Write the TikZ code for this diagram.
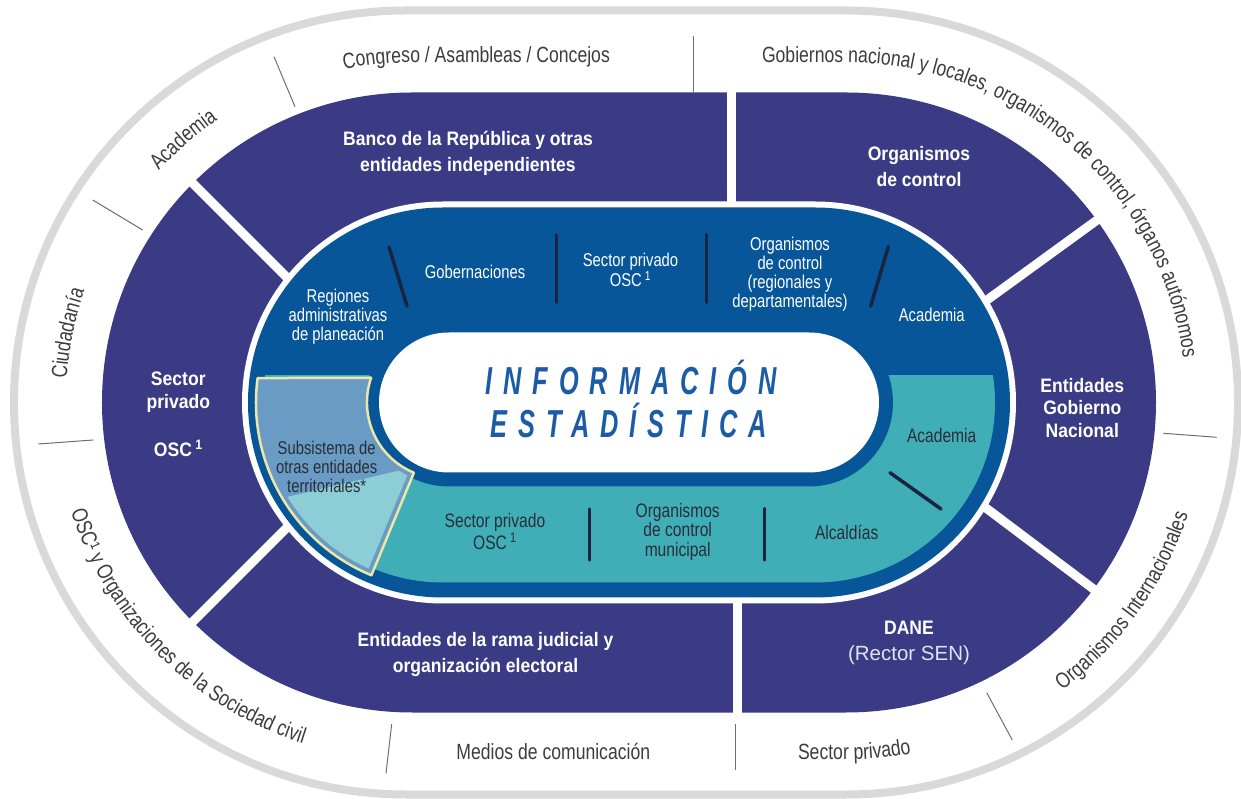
\documentclass[tikz,border=0pt]{standalone}
\usepackage{fontspec}
\setmainfont{Liberation Sans}[FakeStretch=0.8]
\newfontfamily\bcond{Liberation Sans}[FakeStretch=0.9]
\newfontfamily\titlef{Liberation Sans}[FakeStretch=0.65,LetterSpace=28]
\newfontfamily\plainf{Liberation Sans}
\usetikzlibrary{decorations.text}
\definecolor{purp}{RGB}{59,58,132}
\definecolor{ringblue}{RGB}{8,86,154}
\definecolor{tealc}{RGB}{64,174,183}
\definecolor{steelc}{RGB}{106,155,197}
\definecolor{lightc}{RGB}{141,205,213}
\definecolor{yelc}{RGB}{237,230,166}
\definecolor{grayring}{RGB}{217,217,217}
\definecolor{sepc}{RGB}{110,110,110}
\definecolor{outtext}{RGB}{60,60,60}
\definecolor{navyd}{RGB}{24,36,64}
\definecolor{dktext}{RGB}{42,46,56}
\definecolor{titlec}{RGB}{28,91,166}
\definecolor{rectorc}{RGB}{226,226,240}
\newcommand\outf{\fontsize{22}{22}\selectfont}
\begin{document}
\begin{tikzpicture}[x=1pt,y=1pt,
 stad/.style 2 args={insert path={(-#1,#2) -- (#1,#2) arc[start angle=90,end angle=-90,radius=#2] -- (-#1,-#2) arc[start angle=270,end angle=90,radius=#2] -- cycle}},
 subs/.style={insert path={(-371.4,24.4) arc[start angle=172.5,end angle=247.5,radius=187] -- (-215.1,-70.2) arc[start angle=247.5,end angle=161,radius=76] -- cycle}},
 divw/.style={white,line width=9pt},
 divd/.style={navyd,line width=3.5pt,line cap=round},
 sepl/.style={sepc,line width=1pt},
 inl/.style={inner sep=0pt,text=white,align=center,font=\fontsize{18.5}{19}\selectfont},
 dkl/.style={inner sep=0pt,text=dktext,align=center,font=\fontsize{19.5}{19.5}\selectfont},
 bl/.style={inner sep=0pt,text=white,align=center,font=\bcond\bfseries\fontsize{19.5}{26}\selectfont},
 outl/.style={inner sep=0pt,text=outtext,font=\outf},
 curv/.style={decorate,decoration={text along path,text color=outtext,text={|\outf|#1}}},
 titl/.style={inner sep=0pt,anchor=base,text=titlec,font=\titlef\bfseries\itshape\fontsize{39}{39}\selectfont},
]
\useasboundingbox (-629,-396.5) rectangle (612,402.5);
% outer gray ring
\draw[grayring,line width=8pt,xshift=-3pt,stad={220}{392}];
% purple ring
\fill[purp,stad={217}{310}];
\draw[divw] (102,185) -- (102,316);
\draw[divw] (108,-185) -- (108,-316);
\draw[divw] (-323.1,106.1) -- (-440.4,223.4);
\draw[divw] (-323.1,-106.1) -- (-440.4,-223.4);
\draw[divw] (338.4,88.2) -- (472.6,185.7);
\draw[divw] (336.8,-90.3) -- (469.4,-190.2);
\fill[white,stad={186}{201}];
% blue ring
\fill[ringblue,stad={186}{195}];
\begin{scope}
 \clip (-420,27) rectangle (420,-220);
 \fill[tealc,stad={186}{180}];
\end{scope}
\fill[ringblue,stad={180}{84}];
% subsystem
\fill[steelc,subs];
\begin{scope}
 \clip[subs];
 \fill[lightc] (-420,-112.9) -- (-200,-61) -- (-150,-61) -- (-150,-260) -- (-420,-260) -- cycle;
 \draw[steelc,line width=10pt,subs];
\end{scope}
\draw[yelc,line width=2.5pt,line join=round,subs];
% center
\fill[white,stad={180}{70}];
% dark dividers
\draw[divd] (-240,155.5) -- (-222,96.5);
\draw[divd] (-72.3,167.5) -- (-72.3,100);
\draw[divd] (77.7,168) -- (77.7,100);
\draw[divd] (259.3,155.8) -- (241.7,96.5);
\draw[divd] (-39.7,-106.5) -- (-39.7,-157.5);
\draw[divd] (135.3,-106) -- (135.3,-157.5);
\draw[divd] (261,-70.2) -- (312,-106.5);
% title
\node[titl] (t1) at (2,7.5) {INFORMACIÓN};
\node[titl] (t2) at (0,-35.5) {ESTADÍSTICA};
% inner blue labels
\node[inl] (reg) at (-291,85.3) {Regiones\\administrativas\\de planeación};
\node[inl] (gob) at (-154,130.8) {Gobernaciones};
\node[inl] (sp1) at (1.5,132.5) {Sector privado\\OSC\,\textsuperscript{1}};
\node[inl] (oc1) at (161,128.5) {Organismos\\de control\\(regionales y\\departamentales)};
\node[inl] (ac1) at (302.7,87.5) {Academia};
% teal labels
\node[dkl] (ac2) at (312.7,-33.5) {Academia};
\node[dkl] (alc) at (217.7,-129.8) {Alcaldías};
\node[dkl] (ocm) at (48.7,-129.2) {Organismos\\de control\\municipal};
\node[dkl] (sp2) at (-134,-129.2) {Sector privado\\OSC\,\textsuperscript{1}};
\node[dkl,font=\fontsize{18.5}{18.7}\selectfont] (sub) at (-302.3,-64.5) {Subsistema de\\otras entidades\\territoriales*};
% purple labels
\node[bl] (banco) at (-161,249.5) {Banco de la República y otras\\entidades independientes};
\node[bl] (orgc) at (290,235.8) {Organismos\\de control};
\node[bl,font=\bcond\bfseries\fontsize{19.5}{22.5}\selectfont] (egn) at (453.3,-5.2) {Entidades\\Gobierno\\Nacional};
\node[bl] (dane) at (280,-225.2) {DANE};
\node[inner sep=0pt,text=rectorc,font=\plainf\fontsize{20.5}{20.5}\selectfont] (rector) at (280,-252.5) {(Rector SEN)};
\node[bl] (rama) at (-143.5,-252.5) {Entidades de la rama judicial y\\organización electoral};
\node[bl,font=\bcond\bfseries\fontsize{19.5}{22.3}\selectfont] (spl) at (-450.7,10.3) {Sector\\privado};
\node[bl] (oscl) at (-450.7,-45.8) {OSC\,\textsuperscript{1}};
% outer separators
\draw[sepl] (64.3,366.5) -- (64.3,309.5);
\draw[sepl] (-355,345.8) -- (-334,295.8);
\draw[sepl] (-536.3,202.5) -- (-486.3,172.5);
\draw[sepl] (-590.7,-41.5) -- (-535.7,-37.5);
\draw[sepl] (-237.3,-321.5) -- (-243,-370.8);
\draw[sepl] (106.7,-321.5) -- (106.7,-367.5);
\draw[sepl] (357.7,-290.2) -- (383.3,-337.5);
\draw[sepl] (534.3,-30.8) -- (587.7,-34.8);
% outer labels
\path[curv={Congreso / Asambleas / Concejos}] (-284.8,333.2) arc[start angle=101.5,end angle=90,radius=340] -- (100,340);
\path[curv={Gobiernos nacional y locales, organismos de control, órganos autónomos}] (133,340) -- (217,340) arc[start angle=90,end angle=-30,radius=340];
\path[curv={Academia},decoration={text align=center}] (-501.4,191.8) arc[start angle=146,end angle=116,radius=343];
\path[curv={Ciudadanía},decoration={text align=center}] (-562.2,-24.1) arc[start angle=184,end angle=153.2,radius=346];
\path[curv={OSC¹ y Organizaciones de la Sociedad civil},decoration={text align=center}] (-569.6,-62.2) arc[start angle=190,end angle=260,radius=358];
\path[curv={Organismos Internacionales},decoration={text align=center}] (340.1,-338.3) arc[start angle=-70,end angle=-1.2,radius=360];
\path[curv={Sector privado}] (169,-357) -- (217,-357) arc[start angle=-90,end angle=-40,radius=357];
\node[outl,anchor=base] (medios) at (-75.7,-356.5) {Medios de comunicación};
\end{tikzpicture}
\end{document}
